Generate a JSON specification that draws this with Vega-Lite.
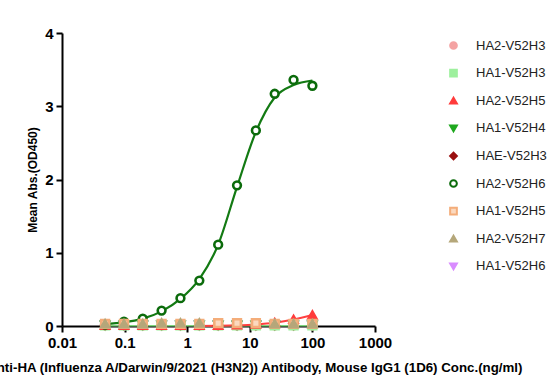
{
  "$schema": "https://vega.github.io/schema/vega-lite/v6.json",
  "width": 313,
  "height": 293,
  "autosize": {"type": "none"},
  "padding": {"left": 62, "top": 33, "right": 173, "bottom": 55},
  "background": "white",
  "config": {
    "view": {"stroke": null},
    "font": "Liberation Sans"
  },
  "datasets": {
    "pts": [
      {"series": "HA1-V52H6", "conc": 0.0488, "od": 0.01}, {"series": "HA1-V52H6", "conc": 0.0977, "od": 0.01}, {"series": "HA1-V52H6", "conc": 0.195, "od": 0.01}, {"series": "HA1-V52H6", "conc": 0.39, "od": 0.01}, {"series": "HA1-V52H6", "conc": 0.78, "od": 0.01}, {"series": "HA1-V52H6", "conc": 1.5625, "od": 0.01}, {"series": "HA1-V52H6", "conc": 3.125, "od": 0.01}, {"series": "HA1-V52H6", "conc": 6.25, "od": 0.01}, {"series": "HA1-V52H6", "conc": 12.5, "od": 0.01}, {"series": "HA1-V52H6", "conc": 25, "od": 0.01}, {"series": "HA1-V52H6", "conc": 50, "od": 0.01}, {"series": "HA1-V52H6", "conc": 100, "od": 0.01},
      {"series": "HAE-V52H3", "conc": 0.0488, "od": 0.01}, {"series": "HAE-V52H3", "conc": 0.0977, "od": 0.01}, {"series": "HAE-V52H3", "conc": 0.195, "od": 0.01}, {"series": "HAE-V52H3", "conc": 0.39, "od": 0.01}, {"series": "HAE-V52H3", "conc": 0.78, "od": 0.01}, {"series": "HAE-V52H3", "conc": 1.5625, "od": 0.01}, {"series": "HAE-V52H3", "conc": 3.125, "od": 0.01}, {"series": "HAE-V52H3", "conc": 6.25, "od": 0.01}, {"series": "HAE-V52H3", "conc": 12.5, "od": 0.01}, {"series": "HAE-V52H3", "conc": 25, "od": 0.01}, {"series": "HAE-V52H3", "conc": 50, "od": 0.01}, {"series": "HAE-V52H3", "conc": 100, "od": 0.01},
      {"series": "HA1-V52H4", "conc": 0.0488, "od": 0.01}, {"series": "HA1-V52H4", "conc": 0.0977, "od": 0.01}, {"series": "HA1-V52H4", "conc": 0.195, "od": 0.01}, {"series": "HA1-V52H4", "conc": 0.39, "od": 0.01}, {"series": "HA1-V52H4", "conc": 0.78, "od": 0.01}, {"series": "HA1-V52H4", "conc": 1.5625, "od": 0.01}, {"series": "HA1-V52H4", "conc": 3.125, "od": 0.01}, {"series": "HA1-V52H4", "conc": 6.25, "od": 0.01}, {"series": "HA1-V52H4", "conc": 12.5, "od": 0.01}, {"series": "HA1-V52H4", "conc": 25, "od": 0.01}, {"series": "HA1-V52H4", "conc": 50, "od": 0.01}, {"series": "HA1-V52H4", "conc": 100, "od": 0.01},
      {"series": "HA2-V52H3", "conc": 0.0488, "od": 0.01}, {"series": "HA2-V52H3", "conc": 0.0977, "od": 0.01}, {"series": "HA2-V52H3", "conc": 0.195, "od": 0.01}, {"series": "HA2-V52H3", "conc": 0.39, "od": 0.01}, {"series": "HA2-V52H3", "conc": 0.78, "od": 0.01}, {"series": "HA2-V52H3", "conc": 1.5625, "od": 0.01}, {"series": "HA2-V52H3", "conc": 3.125, "od": 0.01}, {"series": "HA2-V52H3", "conc": 6.25, "od": 0.01}, {"series": "HA2-V52H3", "conc": 12.5, "od": 0.01}, {"series": "HA2-V52H3", "conc": 25, "od": 0.01}, {"series": "HA2-V52H3", "conc": 50, "od": 0.01}, {"series": "HA2-V52H3", "conc": 100, "od": 0.01},
      {"series": "HA1-V52H3", "conc": 0.0488, "od": 0.01}, {"series": "HA1-V52H3", "conc": 0.0977, "od": 0.01}, {"series": "HA1-V52H3", "conc": 0.195, "od": 0.01}, {"series": "HA1-V52H3", "conc": 0.39, "od": 0.01}, {"series": "HA1-V52H3", "conc": 0.78, "od": 0.01}, {"series": "HA1-V52H3", "conc": 1.5625, "od": 0.01}, {"series": "HA1-V52H3", "conc": 3.125, "od": 0.01}, {"series": "HA1-V52H3", "conc": 6.25, "od": 0.01}, {"series": "HA1-V52H3", "conc": 12.5, "od": 0.01}, {"series": "HA1-V52H3", "conc": 25, "od": 0.01}, {"series": "HA1-V52H3", "conc": 50, "od": 0.01}, {"series": "HA1-V52H3", "conc": 100, "od": 0.01},
      {"series": "HA2-V52H5", "conc": 0.0488, "od": 0.01}, {"series": "HA2-V52H5", "conc": 0.0977, "od": 0.01}, {"series": "HA2-V52H5", "conc": 0.195, "od": 0.01}, {"series": "HA2-V52H5", "conc": 0.39, "od": 0.01}, {"series": "HA2-V52H5", "conc": 0.78, "od": 0.01}, {"series": "HA2-V52H5", "conc": 1.5625, "od": 0.01}, {"series": "HA2-V52H5", "conc": 3.125, "od": 0.01}, {"series": "HA2-V52H5", "conc": 6.25, "od": 0.015}, {"series": "HA2-V52H5", "conc": 12.5, "od": 0.025}, {"series": "HA2-V52H5", "conc": 25, "od": 0.045}, {"series": "HA2-V52H5", "conc": 50, "od": 0.09}, {"series": "HA2-V52H5", "conc": 100, "od": 0.15},
      {"series": "HA2-V52H6", "conc": 0.0488, "od": 0.02}, {"series": "HA2-V52H6", "conc": 0.0977, "od": 0.06}, {"series": "HA2-V52H6", "conc": 0.195, "od": 0.1}, {"series": "HA2-V52H6", "conc": 0.39, "od": 0.21}, {"series": "HA2-V52H6", "conc": 0.78, "od": 0.38}, {"series": "HA2-V52H6", "conc": 1.5625, "od": 0.62}, {"series": "HA2-V52H6", "conc": 3.125, "od": 1.11}, {"series": "HA2-V52H6", "conc": 6.25, "od": 1.92}, {"series": "HA2-V52H6", "conc": 12.5, "od": 2.67}, {"series": "HA2-V52H6", "conc": 25, "od": 3.17}, {"series": "HA2-V52H6", "conc": 50, "od": 3.36}, {"series": "HA2-V52H6", "conc": 100, "od": 3.28},
      {"series": "HA1-V52H5", "conc": 0.0488, "od": 0.03}, {"series": "HA1-V52H5", "conc": 0.0977, "od": 0.03}, {"series": "HA1-V52H5", "conc": 0.195, "od": 0.03}, {"series": "HA1-V52H5", "conc": 0.39, "od": 0.03}, {"series": "HA1-V52H5", "conc": 0.78, "od": 0.03}, {"series": "HA1-V52H5", "conc": 1.5625, "od": 0.03}, {"series": "HA1-V52H5", "conc": 3.125, "od": 0.04}, {"series": "HA1-V52H5", "conc": 6.25, "od": 0.04}, {"series": "HA1-V52H5", "conc": 12.5, "od": 0.04}, {"series": "HA1-V52H5", "conc": 25, "od": 0.03}, {"series": "HA1-V52H5", "conc": 50, "od": 0.03}, {"series": "HA1-V52H5", "conc": 100, "od": 0.03},
      {"series": "HA2-V52H7", "conc": 0.0488, "od": 0.03}, {"series": "HA2-V52H7", "conc": 0.0977, "od": 0.03}, {"series": "HA2-V52H7", "conc": 0.195, "od": 0.03}, {"series": "HA2-V52H7", "conc": 0.39, "od": 0.04}, {"series": "HA2-V52H7", "conc": 0.78, "od": 0.04}, {"series": "HA2-V52H7", "conc": 1.5625, "od": 0.04}, {"series": "HA2-V52H7", "conc": 25, "od": 0.03}, {"series": "HA2-V52H7", "conc": 50, "od": 0.03}, {"series": "HA2-V52H7", "conc": 100, "od": 0.03}
    ],
    "fitH6": [
      {"conc": 0.0488, "od": 0.03}, {"conc": 0.0977, "od": 0.05}, {"conc": 0.195, "od": 0.1}, {"conc": 0.39, "od": 0.2}, {"conc": 0.78, "od": 0.37}, {"conc": 1.5625, "od": 0.64}, {"conc": 3.125, "od": 1.11}, {"conc": 6.25, "od": 1.9}, {"conc": 12.5, "od": 2.65}, {"conc": 25, "od": 3.12}, {"conc": 50, "od": 3.29}, {"conc": 100, "od": 3.35}
    ],
    "fitH5": [
      {"conc": 1.3, "od": 0.0}, {"conc": 3.125, "od": 0.004}, {"conc": 6.25, "od": 0.01}, {"conc": 12.5, "od": 0.022}, {"conc": 25, "od": 0.045}, {"conc": 50, "od": 0.088}, {"conc": 100, "od": 0.15}
    ],
    "fitH3": [
      {"conc": 0.0488, "od": 0.005}, {"conc": 100, "od": 0.005}
    ]
  },
  "layer": [
    {
      "data": {"name": "fitH3"},
      "mark": {"type": "line", "color": "#7ed87e", "strokeWidth": 1.5},
      "encoding": {
        "x": {"field": "conc", "type": "quantitative", "scale": {"type": "log", "domain": [0.01, 1000]}},
        "y": {"field": "od", "type": "quantitative"}
      }
    },
    {
      "data": {"name": "fitH5"},
      "mark": {"type": "line", "color": "#ff4040", "strokeWidth": 2, "interpolate": "monotone"},
      "encoding": {
        "x": {"field": "conc", "type": "quantitative"},
        "y": {"field": "od", "type": "quantitative"}
      }
    },
    {
      "data": {"name": "fitH6"},
      "mark": {"type": "line", "color": "#137a13", "strokeWidth": 2.2, "interpolate": "monotone"},
      "encoding": {
        "x": {"field": "conc", "type": "quantitative"},
        "y": {"field": "od", "type": "quantitative"}
      }
    },
    {
      "data": {"name": "pts"},
      "mark": {"type": "point", "size": 60, "strokeWidth": 2.6, "opacity": 1},
      "encoding": {
        "x": {
          "field": "conc", "type": "quantitative",
          "scale": {"type": "log", "domain": [0.01, 1000]},
          "axis": {
            "values": [0.01, 0.1, 1, 10, 100, 1000],
            "format": "~g",
            "grid": false,
            "domainColor": "black", "domainWidth": 2,
            "tickColor": "black", "tickWidth": 2, "tickSize": 6,
            "labelFont": "Liberation Sans", "labelFontSize": 15, "labelFontWeight": "bold", "labelColor": "black",
            "labelPadding": 3, "labelFlush": false,
            "title": "Anti-HA (Influenza A/Darwin/9/2021 (H3N2)) Antibody, Mouse IgG1 (1D6) Conc.(ng/ml)",
            "titleFont": "Liberation Sans", "titleFontSize": 13.3, "titleFontWeight": "bold", "titleColor": "black",
            "titleAlign": "right", "titleAnchor": "end", "titleX": 460, "titleY": 34
          }
        },
        "y": {
          "field": "od", "type": "quantitative",
          "scale": {"domain": [0, 4], "nice": false},
          "axis": {
            "values": [0, 1, 2, 3, 4],
            "format": "d",
            "grid": false,
            "domainColor": "black", "domainWidth": 2,
            "tickColor": "black", "tickWidth": 2, "tickSize": 6,
            "labelFont": "Liberation Sans", "labelFontSize": 15, "labelFontWeight": "bold", "labelColor": "black",
            "labelPadding": 3,
            "title": "Mean Abs.(OD450)",
            "titleFont": "Liberation Sans", "titleFontSize": 12, "titleFontWeight": "bold", "titleColor": "black",
            "titlePadding": 5
          }
        },
        "shape": {
          "field": "series", "type": "nominal",
          "scale": {
            "domain": ["HA2-V52H3", "HA1-V52H3", "HA2-V52H5", "HA1-V52H4", "HAE-V52H3", "HA2-V52H6", "HA1-V52H5", "HA2-V52H7", "HA1-V52H6"],
            "range": ["circle", "square", "triangle-up", "triangle-down", "diamond", "circle", "square", "triangle-up", "triangle-down"]
          },
          "legend": {
            "title": null, "orient": "none", "legendX": 385, "legendY": 6,
            "labelFont": "Liberation Sans", "labelFontSize": 13, "labelColor": "#222",
            "labelOffset": 16, "rowPadding": 12.6, "symbolSize": 45, "symbolStrokeWidth": 2, "padding": 0
          }
        },
        "fill": {
          "field": "series", "type": "nominal",
          "scale": {
            "domain": ["HA2-V52H3", "HA1-V52H3", "HA2-V52H5", "HA1-V52H4", "HAE-V52H3", "HA2-V52H6", "HA1-V52H5", "HA2-V52H7", "HA1-V52H6"],
            "range": ["#f4a3a3", "#9ef09e", "#ff3b3b", "#1fa81f", "#9a1010", "#ffffff", "#fbd9bf", "#b5a77a", "#d98cff"]
          },
          "legend": {
            "title": null, "orient": "none", "legendX": 385, "legendY": 6,
            "labelFont": "Liberation Sans", "labelFontSize": 13, "labelColor": "#222",
            "labelOffset": 16, "rowPadding": 12.6, "symbolSize": 45, "symbolStrokeWidth": 2, "padding": 0
          }
        },
        "stroke": {
          "field": "series", "type": "nominal",
          "scale": {
            "domain": ["HA2-V52H3", "HA1-V52H3", "HA2-V52H5", "HA1-V52H4", "HAE-V52H3", "HA2-V52H6", "HA1-V52H5", "HA2-V52H7", "HA1-V52H6"],
            "range": ["#f4a3a3", "#9ef09e", "#ff3b3b", "#1fa81f", "#9a1010", "#0b6b0b", "#f4ad7a", "#b5a77a", "#d98cff"]
          },
          "legend": {
            "title": null, "orient": "none", "legendX": 385, "legendY": 6,
            "labelFont": "Liberation Sans", "labelFontSize": 13, "labelColor": "#222",
            "labelOffset": 16, "rowPadding": 12.6, "symbolSize": 45, "symbolStrokeWidth": 2, "padding": 0
          }
        }
      }
    }
  ]
}
